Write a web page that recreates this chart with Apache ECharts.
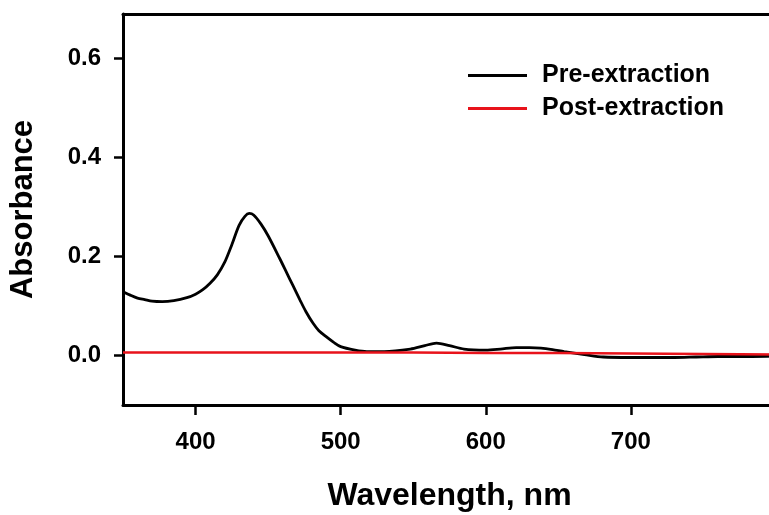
<!DOCTYPE html>
<html>
<head>
<meta charset="utf-8">
<script src="https://cdn.jsdelivr.net/npm/echarts@6/dist/echarts.min.js"></script>
<style>
html,body{margin:0;padding:0;overflow:hidden;background:#fff;}
#c{width:780px;height:515px;}
</style>
</head>
<body>
<div id="c"></div>
<script>
// Wavelength (nm) and absorbance values
const preWavelengths = [350,355,360,365,370,377,385,394,400,405,410,415,420,425,430,434,437,440,445,450,458,463,467,472,476,481,485,490,495,500,510,518,530,548,558,566,575,585,600,610,621,630,638,646,654,668,681,700,713,730,745,760,780,800];
const preValues = [0.129,0.122,0.116,0.113,0.110,0.109,0.111,0.117,0.124,0.133,0.146,0.163,0.188,0.224,0.263,0.281,0.287,0.284,0.266,0.242,0.196,0.166,0.142,0.112,0.089,0.065,0.050,0.038,0.027,0.018,0.011,0.008,0.008,0.013,0.020,0.025,0.020,0.013,0.011,0.013,0.016,0.016,0.015,0.012,0.008,0.002,-0.003,-0.004,-0.004,-0.004,-0.003,-0.002,-0.002,-0.001];
const postWavelengths = [350,400,450,500,550,600,650,700,750,800];
const postValues = [0.006,0.006,0.006,0.006,0.006,0.005,0.005,0.004,0.003,0.002];
const xTicks = [400,500,600,700];
const yTicks = [0.0,0.2,0.4,0.6];
const seriesNames = ['Pre-extraction','Post-extraction'];

const pre = preWavelengths.map((w,i)=>[w,preValues[i]]);
const post = postWavelengths.map((w,i)=>[w,postValues[i]]);
const font = 'Liberation Sans, Arial, sans-serif';

const chart = echarts.init(document.getElementById('c'), null, {renderer:'canvas'});
chart.setOption({
  animation:false,
  backgroundColor:'#fff',
  grid:{left:123, top:14, width:653, height:391, outerBoundsMode:'none', containLabel:false},
  legend:{
    orient:'vertical', left:468, top:63, padding:0, itemWidth:59, itemHeight:3, itemGap:8,
    icon:'rect',
    textStyle:{fontFamily:font, fontWeight:'bold', fontSize:25, color:'#000', padding:[0,0,0,10]},
    data:seriesNames
  },
  xAxis:[{
    type:'value', min:350, max:800,
    name:'Wavelength, nm', nameLocation:'middle', nameGap:75,
    nameTextStyle:{fontFamily:font, fontWeight:'bold', fontSize:32, color:'#000'},
    axisLine:{show:true, onZero:false, lineStyle:{color:'#000', width:3}},
    axisTick:{show:true, length:10, lineStyle:{color:'#000', width:2.5}, customValues:xTicks},
    axisLabel:{fontFamily:font, fontWeight:'bold', fontSize:24, color:'#000', margin:25, customValues:xTicks},
    splitLine:{show:false}
  },{
    type:'value', position:'top', min:350, max:800,
    axisLine:{show:true, onZero:false, lineStyle:{color:'#000', width:3}},
    axisTick:{show:false}, axisLabel:{show:false}, splitLine:{show:false}
  }],
  yAxis:[{
    type:'value', min:-0.1, max:0.69,
    name:'Absorbance', nameLocation:'middle', nameGap:84,
    nameTextStyle:{fontFamily:font, fontWeight:'bold', fontSize:31, color:'#000'},
    axisLine:{show:true, onZero:false, lineStyle:{color:'#000', width:3}},
    axisTick:{show:true, length:9, lineStyle:{color:'#000', width:2.5}, customValues:yTicks},
    axisLabel:{fontFamily:font, fontWeight:'bold', fontSize:24, color:'#000', margin:22, customValues:yTicks,
      formatter:v=>Number(v).toFixed(1)},
    splitLine:{show:false}
  },{
    type:'value', position:'right', min:-0.1, max:0.69,
    axisLine:{show:true, onZero:false, lineStyle:{color:'#000', width:3}},
    axisTick:{show:false}, axisLabel:{show:false}, splitLine:{show:false}
  }],
  series:[
    {name:seriesNames[0], type:'line', data:pre, smooth:0.3, symbol:'none', color:'#000',
     lineStyle:{color:'#000', width:2.8}},
    {name:seriesNames[1], type:'line', data:post, smooth:false, symbol:'none', color:'#e8131b',
     lineStyle:{color:'#e8131b', width:2.5}}
  ]
});
</script>
</body>
</html>
